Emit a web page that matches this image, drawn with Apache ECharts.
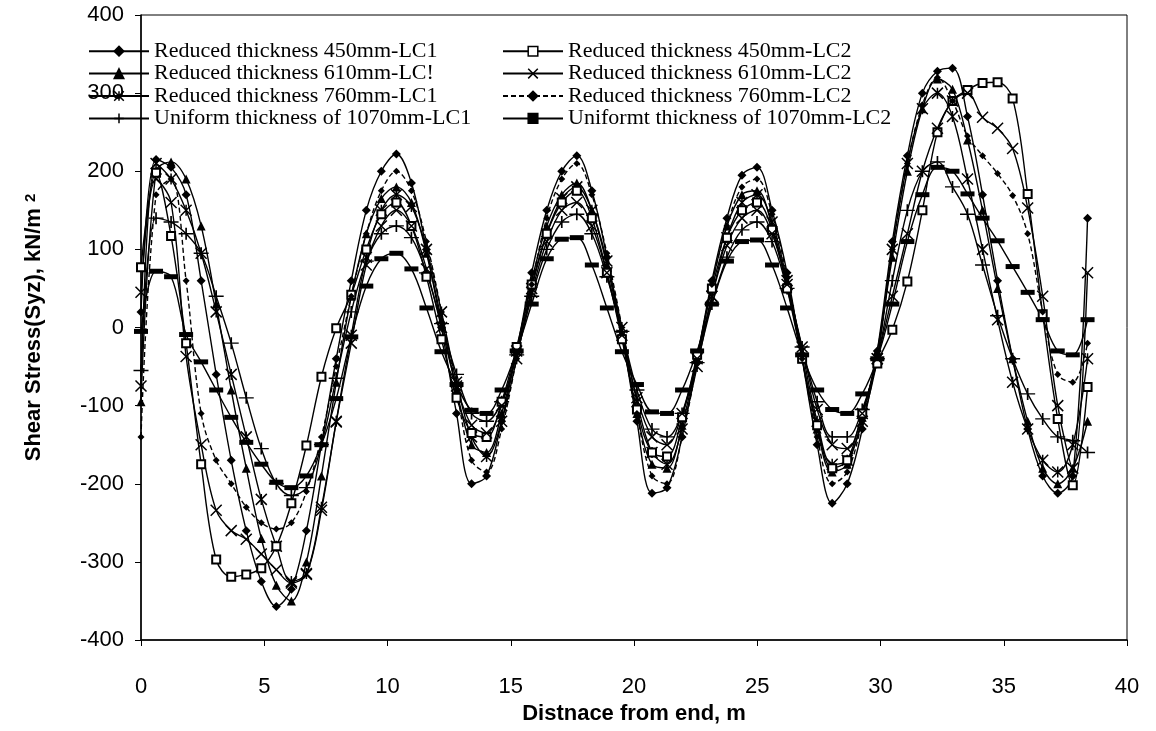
<!DOCTYPE html>
<html>
<head>
<meta charset="utf-8">
<script src="https://cdn.jsdelivr.net/npm/echarts@6/dist/echarts.min.js"></script>
<style>
  html, body { margin: 0; padding: 0; background: #fff; }
  #chart { width: 1156px; height: 731px; }
</style>
</head>
<body>
<div id="chart"></div>
<script>
// Distance from the end of the slab, m (2 ft station spacing)
const distance = [0, 0.61, 1.22, 1.83, 2.44, 3.05, 3.66, 4.27, 4.88, 5.49, 6.1, 6.71, 7.32, 7.92, 8.53, 9.14,
  9.75, 10.36, 10.97, 11.58, 12.19, 12.8, 13.41, 14.02, 14.63, 15.24, 15.85, 16.46, 17.07, 17.68, 18.29, 18.9,
  19.51, 20.12, 20.73, 21.34, 21.95, 22.56, 23.16, 23.77, 24.38, 24.99, 25.6, 26.21, 26.82, 27.43, 28.04, 28.65,
  29.26, 29.87, 30.48, 31.09, 31.7, 32.31, 32.92, 33.53, 34.14, 34.75, 35.36, 35.97, 36.58, 37.19, 37.8, 38.4];

// Shear stress Syz, kN/m2
const reduced450LC1 = [20, 215, 205, 170, 60, -60, -170, -260, -325, -357, -335, -260, -150, -40, 60, 150,
  200, 222, 185, 100, 0, -110, -200, -190, -120, -30, 70, 150, 200, 220, 175, 90,
  -10, -120, -212, -205, -140, -40, 60, 140, 195, 205, 150, 70, -40, -150, -225, -200,
  -130, -30, 110, 220, 300, 328, 332, 270, 170, 60, -40, -130, -190, -212, -190, 140];
const reduced610LC1 = [-95, 200, 212, 190, 130, 30, -80, -180, -270, -330, -350, -300, -190, -70, 40, 120,
  165, 180, 160, 95, 10, -80, -150, -160, -110, -30, 60, 130, 170, 185, 150, 80,
  -10, -110, -175, -180, -125, -40, 55, 130, 170, 175, 130, 55, -40, -130, -185, -175,
  -115, -30, 90, 200, 280, 318, 305, 240, 150, 50, -40, -120, -180, -200, -180, -120];
const reduced760LC1 = [-75, 210, 190, 150, 95, 20, -60, -140, -220, -280, -325, -315, -230, -120, -10, 90,
  150, 170, 155, 100, 20, -70, -140, -165, -120, -40, 50, 120, 165, 180, 150, 85,
  0, -95, -160, -175, -130, -50, 40, 115, 160, 170, 135, 60, -30, -120, -175, -170,
  -120, -40, 100, 210, 280, 300, 270, 190, 100, 10, -70, -130, -170, -185, -150, -40];
const uniform1070LC1 = [-55, 140, 135, 120, 95, 40, -20, -90, -155, -200, -215, -205, -150, -65, 20, 85,
  120, 130, 115, 70, 5, -60, -110, -120, -95, -35, 40, 100, 135, 145, 120, 65,
  -5, -80, -130, -140, -110, -45, 30, 90, 125, 135, 110, 50, -25, -95, -140, -140,
  -105, -40, 60, 150, 200, 212, 180, 145, 80, 15, -40, -85, -117, -140, -145, -160];
const reduced450LC2 = [77, 198, 117, -20, -175, -297, -319, -316, -308, -280, -225, -151, -63, -1, 42, 100,
  145, 160, 130, 65, -15, -90, -135, -140, -95, -25, 55, 120, 160, 175, 140, 70,
  -15, -105, -160, -165, -115, -35, 50, 115, 150, 160, 125, 50, -40, -125, -180, -170,
  -110, -46, -3, 59, 150, 250, 290, 304, 313, 314, 293, 171, 17, -117, -202, -76];
const reduced610LC2 = [45, 190, 160, -37, -150, -234, -260, -271, -290, -310, -327, -316, -234, -121, -20, 80,
  130, 150, 130, 75, 0, -75, -125, -135, -100, -30, 45, 110, 150, 160, 130, 70,
  -10, -90, -140, -150, -110, -40, 40, 105, 140, 150, 120, 55, -25, -105, -150, -155,
  -110, -40, 40, 120, 200, 255, 290, 300, 269, 255, 229, 153, 40, -100, -180, 70];
const reduced760LC2 = [-140, 170, 190, 60, -110, -170, -200, -230, -250, -258, -250, -210, -140, -50, 40, 120,
  175, 200, 175, 110, 20, -80, -170, -185, -130, -40, 55, 140, 190, 210, 170, 95,
  0, -110, -190, -200, -140, -45, 55, 130, 180, 190, 145, 65, -40, -140, -200, -185,
  -120, -35, 100, 210, 285, 320, 290, 245, 220, 197, 169, 120, 20, -60, -70, -20];
const uniform1070LC2 = [-5, 72, 65, -9, -44, -80, -115, -147, -175, -198, -205, -190, -150, -91, -12, 53,
  88, 95, 75, 25, -31, -73, -106, -110, -80, -30, 30, 88, 113, 115, 80, 25,
  -31, -73, -108, -110, -80, -30, 30, 85, 110, 112, 80, 25, -35, -80, -105, -110,
  -85, -40, 30, 110, 170, 205, 200, 171, 140, 111, 78, 45, 10, -30, -35, 10];

const seriesNames = [
  'Reduced thickness 450mm-LC1', 'Reduced thickness 610mm-LC!', 'Reduced thickness 760mm-LC1',
  'Uniform thickness of 1070mm-LC1', 'Reduced thickness 450mm-LC2', 'Reduced thickness 610mm-LC2',
  'Reduced thickness 760mm-LC2', 'Uniformt thickness of 1070mm-LC2'
];
const xTicks = { min: 0, max: 40, step: 5 };
const yTicks = { min: -400, max: 400, step: 100 };

// Marker shapes
const ASTERISK = 'path://M0,0L10,10M10,0L0,10M5,0L5,10';
const CROSS = 'path://M0,0L10,10M10,0L0,10';
const PLUS = 'path://M0,5L10,5M5,0L5,10';

function pairs(values) {
  return values.map((v, i) => [distance[i], v]);
}

function line(name, values, marker) {
  return Object.assign({
    name: name,
    type: 'line',
    data: pairs(values),
    smooth: 0.35,
    silent: true,
    showAllSymbol: true,
    lineStyle: { color: '#000', width: 1.4 },
    itemStyle: { color: '#000', borderColor: '#000', borderWidth: 0 }
  }, marker);
}

const series = [
  line(seriesNames[0], reduced450LC1, { symbol: 'diamond', symbolSize: 9 }),
  line(seriesNames[1], reduced610LC1, { symbol: 'triangle', symbolSize: 9 }),
  line(seriesNames[2], reduced760LC1, { symbol: ASTERISK, symbolSize: 11,
    itemStyle: { color: '#000', borderColor: '#000', borderWidth: 1.5 } }),
  line(seriesNames[3], uniform1070LC1, { symbol: PLUS, symbolSize: [15, 12],
    itemStyle: { color: '#000', borderColor: '#000', borderWidth: 1.5 } }),
  line(seriesNames[4], reduced450LC2, { symbol: 'rect', symbolSize: 8,
    itemStyle: { color: '#fff', borderColor: '#000', borderWidth: 2 } }),
  line(seriesNames[5], reduced610LC2, { symbol: CROSS, symbolSize: 11,
    itemStyle: { color: '#000', borderColor: '#000', borderWidth: 1.5 } }),
  line(seriesNames[6], reduced760LC2, { symbol: 'diamond', symbolSize: 7,
    lineStyle: { color: '#000', width: 1.4, type: [5, 3] } }),
  line(seriesNames[7], uniform1070LC2, { symbol: 'rect', symbolSize: [14, 5], symbolKeepAspect: true })
];

const legendBase = {
  orient: 'vertical',
  top: 40,
  padding: 0,
  itemWidth: 60,
  itemHeight: 12,
  itemGap: 0,
  selectedMode: false,
  textStyle: { fontFamily: 'Liberation Serif', fontSize: 22, color: '#000', lineHeight: 22.4 },
  itemStyle: { borderWidth: 1.5 }
};

const chart = echarts.init(document.getElementById('chart'), null, { renderer: 'canvas' });
chart.setOption({
  animation: false,
  backgroundColor: '#fff',
  grid: { left: 141, right: 29, top: 15, bottom: 91, show: true, borderColor: '#000', borderWidth: 1 },
  legend: [
    Object.assign({}, legendBase, { left: 88, data: seriesNames.slice(0, 4) }),
    Object.assign({}, legendBase, { left: 502, data: seriesNames.slice(4) })
  ],
  xAxis: {
    type: 'value',
    min: xTicks.min, max: xTicks.max, interval: xTicks.step,
    name: 'Distnace from end, m',
    nameLocation: 'middle',
    nameGap: 62,
    nameTextStyle: { fontFamily: 'Liberation Sans', fontSize: 22, fontWeight: 'bold', color: '#000' },
    axisLine: { onZero: false, lineStyle: { color: '#000', width: 1.5 } },
    axisTick: { inside: false, length: 6, lineStyle: { color: '#000' } },
    axisLabel: { margin: 36, fontFamily: 'Liberation Sans', fontSize: 22, color: '#000' },
    splitLine: { show: false }
  },
  yAxis: {
    type: 'value',
    min: yTicks.min, max: yTicks.max, interval: yTicks.step,
    name: 'Shear Stress(Syz), kN/m {sup|2}',
    nameLocation: 'middle',
    nameRotate: 90,
    nameGap: 96,
    nameTextStyle: {
      fontFamily: 'Liberation Sans', fontSize: 22, fontWeight: 'bold', color: '#000',
      rich: { sup: { fontFamily: 'Liberation Sans', fontSize: 15, fontWeight: 'bold', color: '#000', verticalAlign: 'top' } }
    },
    axisLine: { onZero: false, lineStyle: { color: '#000', width: 1.5 } },
    axisTick: { inside: false, length: 6, lineStyle: { color: '#000' } },
    axisLabel: { margin: 17, fontFamily: 'Liberation Sans', fontSize: 22, color: '#000' },
    splitLine: { show: false }
  },
  series: series
});
</script>
</body>
</html>
